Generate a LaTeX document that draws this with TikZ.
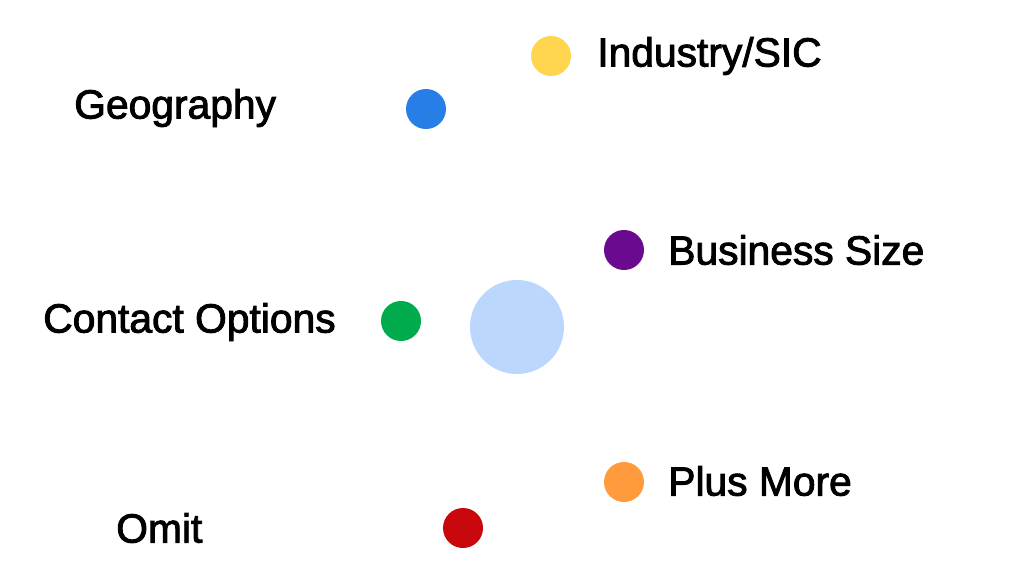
\documentclass[tikz,border=0pt]{standalone}
\usepackage{fontspec}
\setmainfont[FakeBold=2.2]{Liberation Sans}
\definecolor{dotyellow}{HTML}{FFD54F}
\definecolor{dotblue}{HTML}{267EE6}
\definecolor{dotpurple}{HTML}{6A0A8E}
\definecolor{dotgreen}{HTML}{00AB4E}
\definecolor{dotlight}{HTML}{BBD7FD}
\definecolor{dotorange}{HTML}{FF9A3D}
\definecolor{dotred}{HTML}{C8070D}
\begin{document}
\begin{tikzpicture}[x=0.025cm, y=-0.025cm,
    dot/.style={circle, draw=none, inner sep=0pt, minimum size=1cm},
    lbl/.style={anchor=west, inner sep=0pt, font=\fontsize{29}{35}\selectfont}]
    \useasboundingbox (0,0) rectangle (1024,583);
    \node[dot, fill=dotyellow] (industry) at (551,56) {};
    \node[dot, fill=dotblue] (geography) at (426,109) {};
    \node[dot, fill=dotpurple] (size) at (624,250) {};
    \node[dot, fill=dotgreen] (contact) at (401,321) {};
    \node[dot, fill=dotlight, minimum size=2.35cm] (center) at (517,327) {};
    \node[dot, fill=dotorange] (more) at (624,482) {};
    \node[dot, fill=dotred] (omit) at (463,528) {};

    \node[lbl] (industrytext) at (597,56) {Industry/SIC};
    \node[lbl] (geographytext) at (74,108) {Geography};
    \node[lbl] (sizetext) at (668,250) {Business Size};
    \node[lbl] (contacttext) at (43,322) {Contact Options};
    \node[lbl] (moretext) at (668,481) {Plus More};
    \node[lbl] (omittext) at (116,528) {Omit};
\end{tikzpicture}
\end{document}
